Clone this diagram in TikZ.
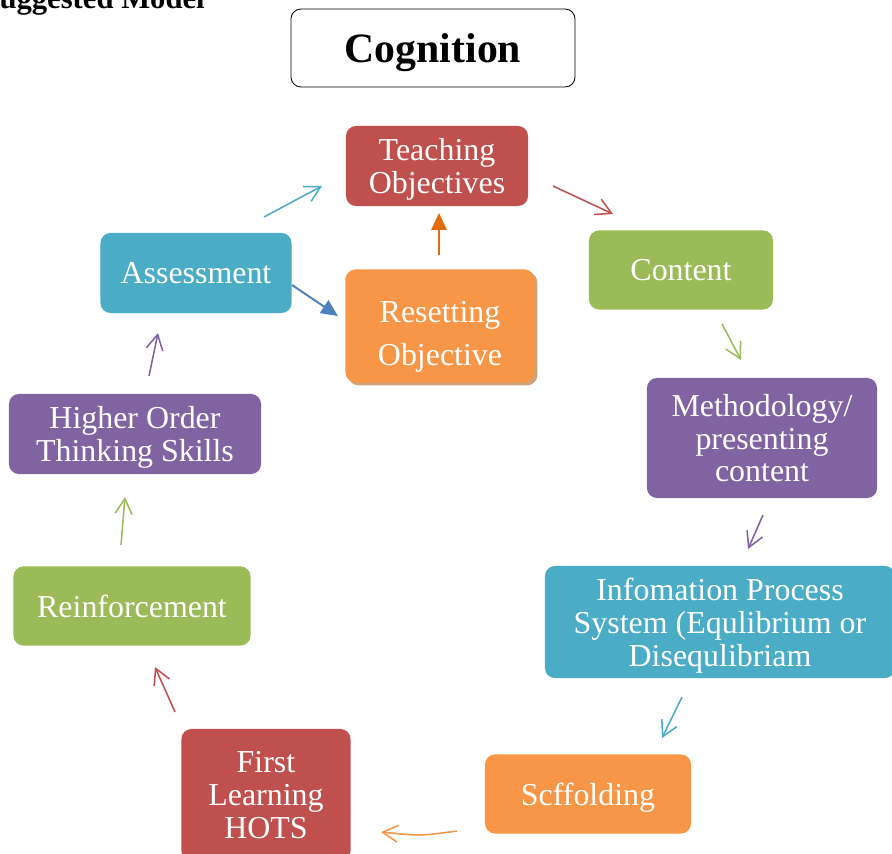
\documentclass[tikz,border=0pt]{standalone}
\usepackage{fontspec}
\setmainfont{Liberation Serif}
\usetikzlibrary{arrows.meta,shadows}

\definecolor{boxred}{HTML}{C0504D}
\definecolor{boxgreen}{HTML}{9BBB59}
\definecolor{boxpurple}{HTML}{8064A2}
\definecolor{boxblue}{HTML}{4BACC6}
\definecolor{boxorange}{HTML}{F79646}
\definecolor{linkblue}{HTML}{4F81BD}
\definecolor{linkorange}{HTML}{E36C09}
\definecolor{shadowtan}{HTML}{CDA27E}

\tikzset{
  stage/.style={rounded corners=0.25cm, text=white, align=center, inner sep=0pt, text depth=0pt,
    font=\fontsize{22.7}{23.4}\selectfont},
  flow/.style={line width=1.1pt, -{Straight Barb[length=0.38cm,width=0.42cm]}},
  push/.style={line width=1.4pt, -{Triangle[length=0.42cm,width=0.38cm]}},
}

\begin{document}
\begin{tikzpicture}[x=0.025cm,y=-0.025cm]
\useasboundingbox (0,0) rectangle (892,853);

% heading
\node[anchor=base east, font=\fontsize{21.8}{24}\selectfont\bfseries, inner sep=0pt] (title) at (205,9) {Suggested Model};
\node[draw=black, line width=0.6pt, rounded corners=0.25cm, minimum width=7.1cm, minimum height=1.95cm,
  text depth=0pt, font=\fontsize{29.7}{32}\selectfont\bfseries] (cog) at (433,48) {Cognition};

% stages of the cycle
\node[stage, fill=boxred, minimum width=4.55cm, minimum height=2.0cm] (teach) at (437,166) {Teaching\\Objectives};
\node[stage, fill=boxgreen, minimum width=4.6cm, minimum height=1.975cm] (content) at (681,270) {Content};
\node[stage, fill=boxpurple, minimum width=5.75cm, minimum height=3.0cm] (method) at (762,438) {Methodology/\\presenting\\content};
\node[stage, fill=boxblue, minimum width=8.75cm, minimum height=2.8cm] (info) at (720,622) {Infomation Process\\System (Equlibrium or\\Disequlibriam};
\node[stage, fill=boxorange, minimum width=5.15cm, minimum height=1.975cm] (scaf) at (588,794) {Scffolding};
\node[stage, fill=boxred, minimum width=4.225cm, minimum height=3.3cm] (first) at (266,795) {First\\Learning\\HOTS};
\node[stage, fill=boxgreen, minimum width=5.925cm, minimum height=1.975cm] (reinf) at (132,606) {Reinforcement};
\node[stage, fill=boxpurple, minimum width=6.3cm, minimum height=2.0cm] (hots) at (135,434) {Higher Order\\Thinking Skills};
\node[stage, fill=boxblue, minimum width=4.775cm, minimum height=2.0cm] (assess) at (196,273) {Assessment};
\node[stage, fill=boxorange, minimum width=4.725cm, minimum height=2.825cm,
  font=\fontsize{22.7}{30}\selectfont, text height=1.95cm,
  drop shadow={shadow xshift=0.07cm, shadow yshift=-0.07cm, fill=shadowtan, opacity=1}] (reset) at (440,326) {Resetting\\Objective};

% arrow ends
\coordinate (at1) at (264,217); \coordinate (at2) at (322,186);
\coordinate (tc1) at (553,186); \coordinate (tc2) at (613,214);
\coordinate (cm1) at (722,324); \coordinate (cm2) at (741,360);
\coordinate (mi1) at (763,515); \coordinate (mi2) at (748,549);
\coordinate (is1) at (682,697); \coordinate (is2) at (662,738);
\coordinate (sf1) at (457,831); \coordinate (sf2) at (381,832);
\coordinate (fr1) at (175,712); \coordinate (fr2) at (155,667);
\coordinate (rh1) at (121,545); \coordinate (rh2) at (125,497);
\coordinate (ha1) at (149,376); \coordinate (ha2) at (158,333);
\coordinate (ar1) at (292,285); \coordinate (ar2) at (338,316);
\coordinate (rt1) at (439,255); \coordinate (rt2) at (439,213);

% cycle arrows
\draw[flow, boxblue] (at1) -- (at2);
\draw[flow, boxred] (tc1) -- (tc2);
\draw[flow, boxgreen] (cm1) -- (cm2);
\draw[flow, boxpurple] (mi1) -- (mi2);
\draw[flow, boxblue] (is1) -- (is2);
\draw[flow, boxorange] (sf1) .. controls (420,836) .. (sf2);
\draw[flow, boxred] (fr1) -- (fr2);
\draw[flow, boxgreen] (rh1) -- (rh2);
\draw[flow, boxpurple] (ha1) -- (ha2);

% back to objectives
\draw[push, linkblue] (ar1) -- (ar2);
\draw[push, linkorange] (rt1) -- (rt2);

\end{tikzpicture}
\end{document}
